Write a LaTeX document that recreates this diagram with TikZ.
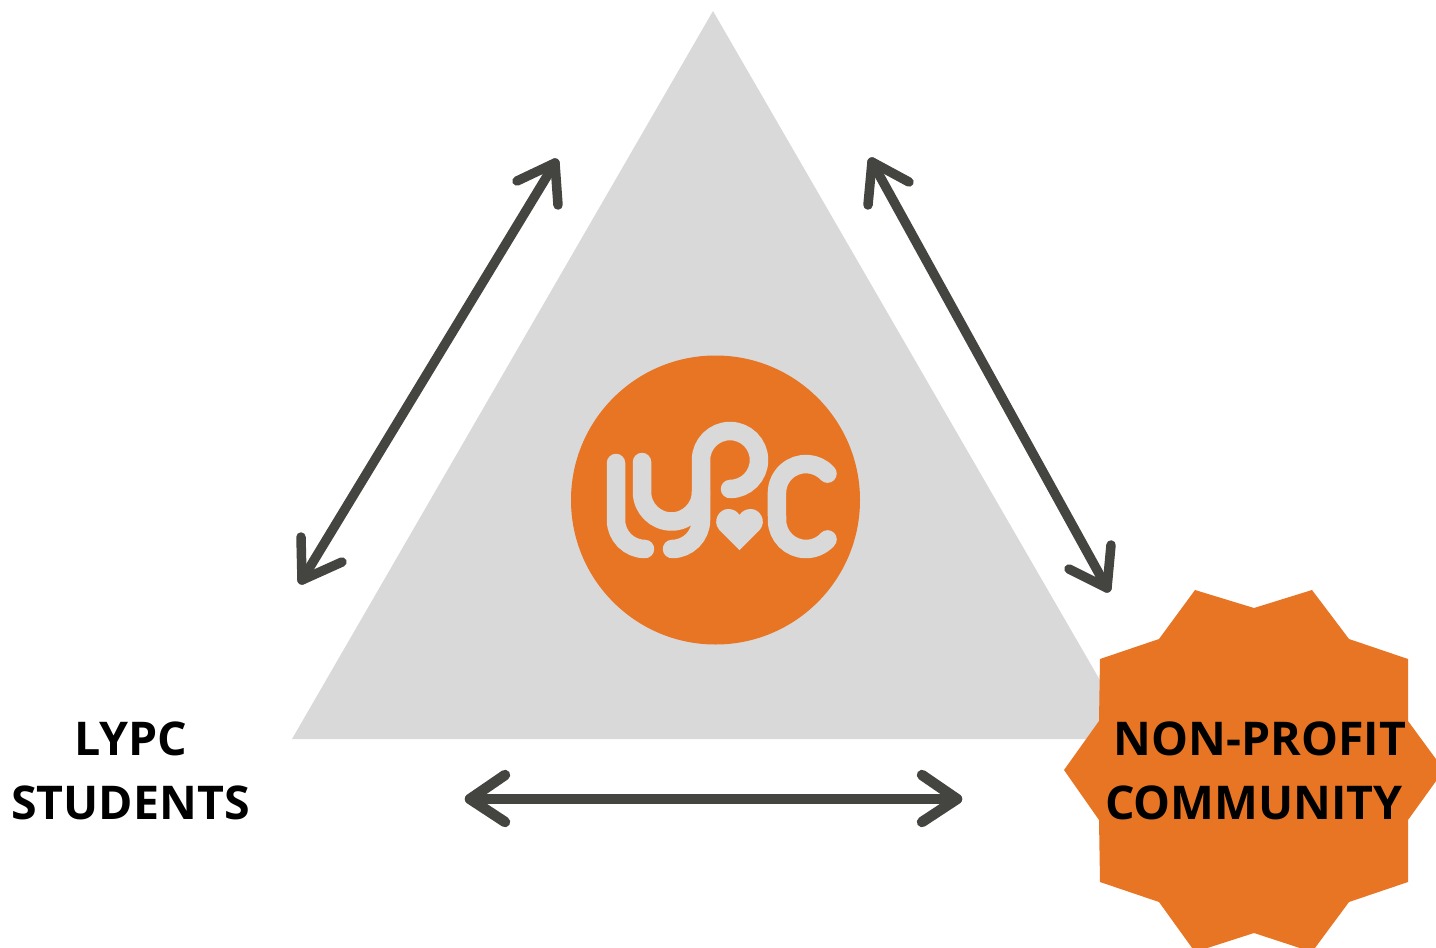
\documentclass[tikz,border=0pt]{standalone}
\usepackage{fontspec}
\setmainfont{Open Sans}
\definecolor{lypcorange}{HTML}{E87524}
\definecolor{lypcgray}{HTML}{D9D9D9}
\definecolor{arrowgray}{HTML}{444540}
\tikzset{
  logostroke/.style={draw=lypcgray,line width=18.5pt,line cap=round,line join=round},
  link/.style={draw=arrowgray,line width=9.5pt,line cap=round,line join=round},
  linkh/.style={link,line width=10.5pt},
  label/.style={font=\fontsize{46.5pt}{64pt}\selectfont\bfseries,text=black,align=center,inner sep=0pt},
}
\begin{document}
\begin{tikzpicture}[x=1pt,y=-1pt]
\useasboundingbox (0,0) rectangle (1436,948);
\fill[lypcgray] (713,11) -- (292,739) -- (1134,739) -- cycle;
\fill[lypcorange] (715.5,500) circle[radius=144.5pt];
% logo
\draw[logostroke] (616,463) -- (616,520) arc[start angle=180,end angle=270,radius=29pt];
\draw[logostroke] (642,462) -- (642,492) arc[start angle=180,end angle=360,radius=29.5pt];
\draw[logostroke] (672,549) arc[start angle=270,end angle=360,radius=29pt] -- (701,460)
   arc[start angle=180,end angle=0,radius=29pt]
   arc[start angle=0,end angle=-90,radius=29pt];
\draw[logostroke] (827.5,473.6) arc[start angle=42,end angle=180,radius=29pt] -- (777,520)
   arc[start angle=180,end angle=318,radius=29pt];
\fill[lypcgray] (739.5,550) -- (719,529.5) .. controls (712,521) and (719,509) .. (728,509) .. controls (733,509) and (737,511) .. (739.5,515)
   .. controls (742,511) and (746,509) .. (751,509) .. controls (760,509) and (767,521) .. (760,529.5) -- cycle;
% badge
\fill[lypcorange] (1195,590) -- (1254,608) -- (1312,590) -- (1349,639) -- (1408,659) -- (1408,721) -- (1444,770)
  -- (1408,820) -- (1408,882) -- (1349,902) -- (1312,952) -- (1254,933) -- (1195,952) -- (1159,902)
  -- (1100,882) -- (1099,820) -- (1064,770) -- (1099,721) -- (1100,659) -- (1159,639) -- cycle;
% labels
\node[label] (students) at (130.5,771) {LYPC\\STUDENTS};
\node[label] (community) at (1255.5,771) {\hspace*{9pt}NON-PROFIT\\COMMUNITY\hspace*{3pt}};
% arrows
\coordinate (a1) at (302,580); \coordinate (a2) at (555,163);
\coordinate (b1) at (872,162); \coordinate (b2) at (1107,588);
\coordinate (c1) at (470,799); \coordinate (c2) at (957,799);
\draw[link] (a1) -- (a2);
\draw[link] (517,181) -- (a2) -- (558,205);
\draw[link] (301,537) -- (a1) -- (342,562);
\draw[link] (b1) -- (b2);
\draw[link] (868,205) -- (b1) -- (909,182);
\draw[link] (1069,569) -- (b2) -- (1111,545);
\draw[linkh] (c1) -- (c2);
\draw[linkh] (505,775) -- (c1) -- (505,822);
\draw[linkh] (922,775) -- (c2) -- (922,822);
\end{tikzpicture}
\end{document}
